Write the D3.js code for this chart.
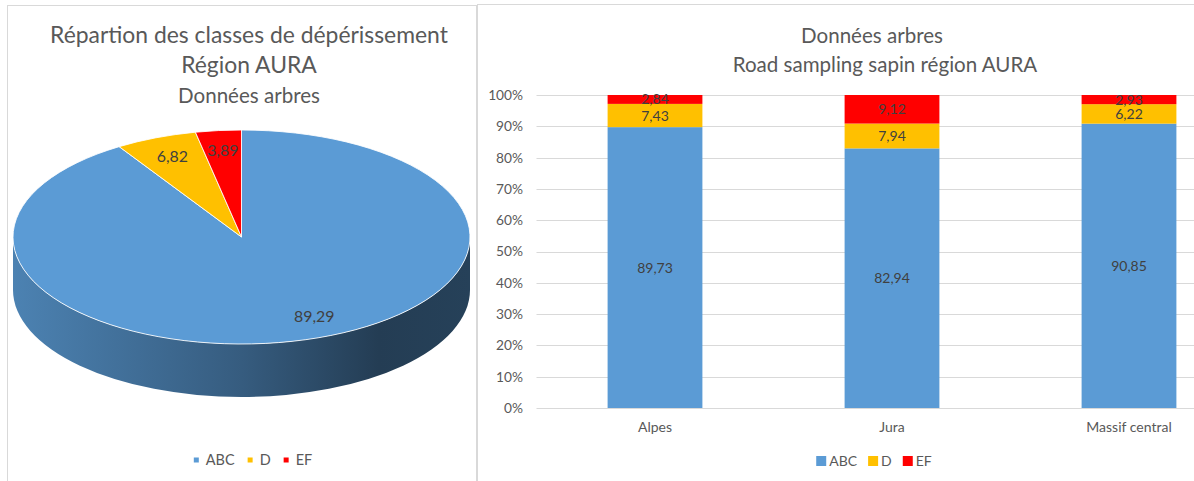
<!DOCTYPE html>
<html>
<head>
<meta charset="utf-8">
<script src="https://cdn.jsdelivr.net/npm/d3@7"></script>
<style>
  body { margin: 0; background: #fff; }
  svg { display: block; }
  text { font-family: Lato, "Open Sans", sans-serif; }
</style>
</head>
<body>
<svg id="chart" width="1194" height="481"></svg>
<script>
// Dieback classes and their colours
const classes = ["ABC", "D", "EF"];
const classColors = ["#5b9bd5", "#ffc000", "#ff0000"];

// Regional share of each class (pie)
const pieValues = [89.29, 6.82, 3.89];

// Per-massif shares (stacked bars)
const regions = ["Alpes", "Jura", "Massif central"];
const valuesABC = [89.73, 82.94, 90.85];
const valuesD = [7.43, 7.94, 6.22];
const valuesEF = [2.84, 9.12, 2.93];

const yTicks = [0, 10, 20, 30, 40, 50, 60, 70, 80, 90, 100];

const pieTitle = ["Répartion des classes de dépérissement", "Région AURA", "Données arbres"];
const barTitle = ["Données arbres", "Road sampling sapin région AURA"];

const svg = d3.select("#chart");
const fmt = v => String(v.toFixed(2)).replace(".", ",");

// Scale factor so that Lato renders at Calibri-like widths
const probe = svg.append("text").style("font-size", "100px").text(pieTitle[0]);
const fontK = (398 / 24.5) / (probe.node().getComputedTextLength() / 100);
probe.remove();
const fs = px => (px * fontK).toFixed(2) + "px";

// Panel frames
svg.append("rect").attr("x", 7.5).attr("y", 5.5).attr("width", 469).attr("height", 490)
  .attr("fill", "none").attr("stroke", "#d9d9d9");
svg.append("rect").attr("x", 477.5).attr("y", 4.5).attr("width", 800).attr("height", 490)
  .attr("fill", "none").attr("stroke", "#d9d9d9");

// Legend helper
function legend(cxCenter, cy, sq, gap, spacing, size) {
  const g = svg.append("g");
  let x = 0;
  classes.forEach((c, i) => {
    g.append("rect").attr("x", x).attr("y", cy - sq / 2).attr("width", sq).attr("height", sq)
      .attr("fill", classColors[i]);
    const t = g.append("text").attr("x", x + sq + gap).attr("y", cy).attr("dy", "0.36em")
      .style("font-size", fs(size)).attr("fill", "#595959").text(c);
    x += sq + gap + t.node().getComputedTextLength() + spacing;
  });
  x -= spacing;
  g.attr("transform", `translate(${cxCenter - x / 2},0)`);
}

// ---------- 3D pie (tilted disc seen in perspective) ----------
const cx = 241.5, cy = 237, rx = 228.5, ry = 107, depth = 53;
const persp = 0.83; // far side is compressed, near side stretched
const proj = a => 2 * Math.atan2(persp * Math.sin(a / 2), Math.cos(a / 2));
const pt = (phi, dy = 0, r = 1) => [cx + r * rx * Math.sin(phi), cy - r * ry * Math.cos(phi) + dy];
const slices = d3.pie().sort(null).value(d => d)(pieValues);

const defs = svg.append("defs");
classColors.forEach((col, i) => {
  const c = d3.color(col);
  const grad = defs.append("linearGradient").attr("id", "side" + i)
    .attr("gradientUnits", "userSpaceOnUse")
    .attr("x1", cx - rx).attr("x2", cx + rx).attr("y1", 0).attr("y2", 0);
  [[0, 0.5], [0.5, 1.45], [0.8, 2.6], [1, 2.45]].forEach(([o, k]) =>
    grad.append("stop").attr("offset", o).attr("stop-color", c.darker(k).formatHex()));
});

const pieG = svg.append("g");
// side walls (front half only)
slices.forEach((s, i) => {
  const s0 = Math.max(proj(s.startAngle), Math.PI / 2);
  const s1 = Math.min(proj(s.endAngle), 3 * Math.PI / 2);
  if (s1 <= s0) return;
  const a = pt(s0), b = pt(s1), bd = pt(s1, depth), ad = pt(s0, depth);
  const p = `M${a}A${rx},${ry} 0 0 1 ${b}L${bd}A${rx},${ry} 0 0 0 ${ad}Z`;
  pieG.append("path").attr("d", p).attr("fill", `url(#side${i})`);
});
// top faces
slices.forEach((s, i) => {
  const p0 = proj(s.startAngle), p1 = proj(s.endAngle);
  const a = pt(p0), b = pt(p1);
  const large = (p1 - p0) > Math.PI ? 1 : 0;
  pieG.append("path")
    .attr("d", `M${cx},${cy}L${a}A${rx},${ry} 0 ${large} 1 ${b}Z`)
    .attr("fill", classColors[i]).attr("stroke", "#fff").attr("stroke-width", 1)
    .attr("stroke-opacity", 0.85).attr("stroke-linejoin", "round");
});
// value labels
slices.forEach(s => {
  const [x, y] = pt(proj((s.startAngle + s.endAngle) / 2), 0, 0.81);
  pieG.append("text").attr("x", x).attr("y", y).attr("dy", "0.36em").attr("text-anchor", "middle")
    .style("font-size", fs(17)).attr("fill", "#404040").text(fmt(s.data));
});

// pie title
const pieTitleY = [43, 73, 103];
const pieTitleSize = [24.5, 24.5, 22];
pieTitle.forEach((t, i) => {
  svg.append("text").attr("x", 249).attr("y", pieTitleY[i]).attr("text-anchor", "middle")
    .style("font-size", fs(pieTitleSize[i])).attr("fill", "#595959").text(t);
});
legend(253, 460, 5, 7, 13, 15.5);

// ---------- stacked bars ----------
const y = d3.scaleLinear().domain([0, 100]).range([408, 95]);
const x = d3.scaleBand().domain(regions).range([536.5, 1247.5]).paddingInner(0.6).paddingOuter(0.3);

const gridG = svg.append("g");
gridG.selectAll("line").data(yTicks).join("line")
  .attr("x1", 536.5).attr("x2", 1247.5)
  .attr("y1", d => Math.round(y(d)) + 0.5).attr("y2", d => Math.round(y(d)) + 0.5)
  .attr("stroke", "#d9d9d9").attr("stroke-width", 1);

const yAxis = svg.append("g").attr("transform", "translate(523,0)")
  .call(d3.axisLeft(y).tickValues(yTicks).tickSize(0).tickPadding(0).tickFormat(d => d + "%"));
yAxis.select(".domain").remove();
yAxis.selectAll("text").style("font-size", fs(14.7)).style("font-family", "Lato, 'Open Sans', sans-serif")
  .attr("fill", "#595959");

const rows = regions.map((r, i) => ({ region: r, ABC: valuesABC[i], D: valuesD[i], EF: valuesEF[i] }));
const stacked = d3.stack().keys(classes)(rows);

const barsG = svg.append("g");
stacked.forEach((layer, li) => {
  barsG.append("g").selectAll("rect").data(layer).join("rect")
    .attr("x", d => x(d.data.region)).attr("width", x.bandwidth())
    .attr("y", d => y(d[1])).attr("height", d => y(d[0]) - y(d[1]))
    .attr("fill", classColors[li]);
});
stacked.forEach((layer, li) => {
  barsG.append("g").selectAll("text").data(layer).join("text")
    .attr("x", d => x(d.data.region) + x.bandwidth() / 2)
    .attr("y", d => (y(d[0]) + y(d[1])) / 2).attr("dy", "0.36em")
    .attr("text-anchor", "middle").style("font-size", fs(15)).attr("fill", "#404040")
    .text(d => fmt(d.data[classes[li]]));
});

const xAxis = svg.append("g").attr("transform", "translate(0,408)")
  .call(d3.axisBottom(x).tickSize(0).tickPadding(14));
xAxis.select(".domain").remove();
xAxis.selectAll("text").style("font-size", fs(15)).style("font-family", "Lato, 'Open Sans', sans-serif")
  .attr("fill", "#595959");

const barTitleX = [872, 885];
const barTitleY = [43, 72];
barTitle.forEach((t, i) => {
  svg.append("text").attr("x", barTitleX[i]).attr("y", barTitleY[i]).attr("text-anchor", "middle")
    .style("font-size", fs(22)).attr("fill", "#595959").text(t);
});
legend(874, 461, 10, 3, 11, 15);
</script>
</body>
</html>
